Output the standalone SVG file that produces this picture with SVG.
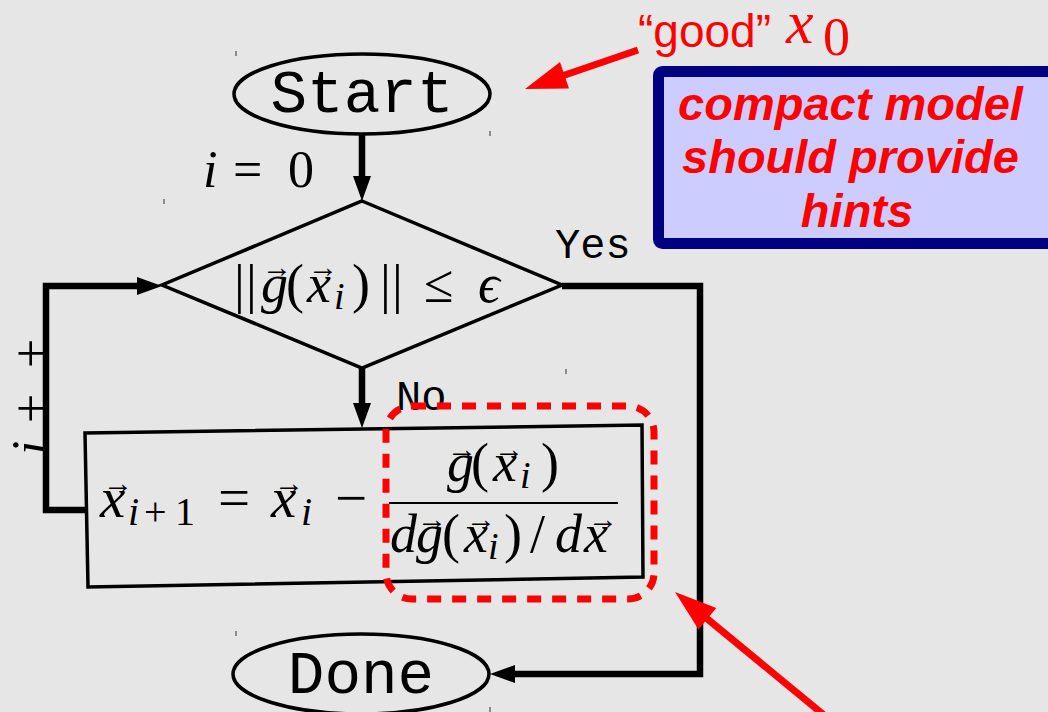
<svg xmlns="http://www.w3.org/2000/svg" width="1048" height="712" viewBox="0 0 1048 712">
<defs>
<style>
.shape{fill:none;stroke:#000;stroke-width:3.5}
.conn{fill:none;stroke:#000;stroke-width:6.5;stroke-linejoin:miter}
.head{fill:#000}
.mono{font-family:'Liberation Mono','DejaVu Sans Mono',monospace;fill:#000}
.m{font-family:'Liberation Serif','DejaVu Serif',serif;fill:#000}
.it{font-style:italic}
.vec{font-family:'Liberation Serif','DejaVu Serif',serif;font-size:30px;text-anchor:middle;fill:#000}
.red{fill:#ff0000}
.tick{stroke:#333;stroke-width:1}
</style>
</defs>
<rect width="1048" height="712" fill="#e6e6e6"/>
<g id="ticks">
<line class="tick" x1="236" y1="51" x2="236" y2="56"/>
<line class="tick" x1="490" y1="131" x2="490" y2="136"/>
<line class="tick" x1="164" y1="199" x2="164" y2="204"/>
<line class="tick" x1="566" y1="369" x2="566" y2="374"/>
<line class="tick" x1="236" y1="631" x2="236" y2="636"/>
<line class="tick" x1="490" y1="707" x2="490" y2="712"/>
</g>
<g id="connectors">
<line class="conn" x1="362" y1="135" x2="362" y2="180"/>
<polygon class="head" points="362,201 353,176 371,176"/>
<line class="conn" x1="362" y1="368" x2="362" y2="407"/>
<polygon class="head" points="362,428 353,403 371,403"/>
<polyline class="conn" points="562,286 700,286 700,674 512,674"/>
<polygon class="head" points="490,674 515,665 515,683"/>
<polyline class="conn" points="87,510 46,510 46,286 140,286"/>
<polygon class="head" points="162,286 137,277 137,295"/>
</g>
<g id="start">
<ellipse class="shape" cx="362" cy="94" rx="128" ry="40"/>
<text class="mono" x="362" y="112" font-size="61" text-anchor="middle">Start</text>
</g>
<g id="init-label">
<text class="m" y="187" font-size="52"><tspan x="203" class="it">i</tspan><tspan x="233">=</tspan><tspan x="288">0</tspan></text>
</g>
<g id="decision">
<polygon class="shape" points="362,201 562,285 362,368 162,285"/>
<text class="m" y="302" font-size="54"><tspan x="234">|</tspan><tspan x="246">|</tspan><tspan x="261" class="it">g</tspan><tspan x="286">(</tspan><tspan x="307" class="it">x</tspan><tspan x="380">|</tspan><tspan x="392">|</tspan><tspan x="424">≤</tspan><tspan x="478" class="it">ϵ</tspan></text>
<text class="m" y="302" font-size="54"><tspan x="352">)</tspan></text>
<text class="m it" x="334" y="309" font-size="38">i</text>
<text class="vec" x="277" y="277">→</text>
<text class="vec" x="323" y="277">→</text>
</g>
<g id="label-yes"><text class="mono" x="555" y="258" font-size="42">Yes</text></g>
<g id="label-no"><text class="mono" x="396" y="410" font-size="42">No</text></g>
<g id="label-inc">
<text class="m" transform="translate(48,455) rotate(-90)" font-size="52"><tspan x="0" class="it">i</tspan><tspan x="32">+</tspan><tspan x="87">+</tspan></text>
</g>
<g id="update">
<polygon class="shape" points="85,433 642,425 643,577 88,587"/>
<text class="m" y="517" font-size="57"><tspan x="100" class="it">x</tspan><tspan x="218">=</tspan><tspan x="271" class="it">x</tspan><tspan x="335">−</tspan></text>
<text class="m" y="525" font-size="40"><tspan x="128" class="it">i</tspan><tspan x="144">+</tspan><tspan x="175">1</tspan><tspan x="301" class="it">i</tspan></text>
<text class="vec" x="118" y="493">→</text>
<text class="vec" x="289" y="493">→</text>
<text class="m" y="481" font-size="54"><tspan x="447" class="it">g</tspan><tspan x="471">(</tspan><tspan x="493" class="it">x</tspan><tspan x="541">)</tspan></text>
<text class="m it" x="520" y="488" font-size="38">i</text>
<text class="vec" x="462" y="459">→</text>
<text class="vec" x="509" y="459">→</text>
<line x1="389" y1="503" x2="618" y2="503" stroke="#000" stroke-width="2.2"/>
<text class="m" y="552" font-size="54"><tspan x="390" class="it">d</tspan><tspan x="416" class="it">g</tspan><tspan x="442">(</tspan><tspan x="464" class="it">x</tspan><tspan x="504">)</tspan><tspan x="530">/</tspan><tspan x="555" class="it">d</tspan><tspan x="584" class="it">x</tspan></text>
<text class="m it" x="488" y="559" font-size="38">i</text>
<text class="vec" x="432" y="529">→</text>
<text class="vec" x="481" y="529">→</text>
<text class="vec" x="603" y="529">→</text>
</g>
<g id="done">
<ellipse class="shape" cx="361" cy="674" rx="128" ry="40"/>
<text class="mono" x="361" y="693" font-size="61" text-anchor="middle">Done</text>
</g>
<g id="highlight">
<rect x="386" y="406" width="268" height="193" rx="26" fill="none" stroke="#ff0000" stroke-width="7" stroke-dasharray="14 11"/>
</g>
<g id="hint-box">
<rect x="658.5" y="71.5" width="400" height="172" rx="4" fill="#ccccff" stroke="#000080" stroke-width="11"/>
<text font-family="'Liberation Sans','Arial',sans-serif" font-weight="bold" font-style="italic" font-size="47" fill="#ff0000" text-anchor="middle">
<tspan x="857" y="120">compact model</tspan>
<tspan x="857" y="173">should provide</tspan>
<tspan x="857" y="227">hints</tspan>
</text>
</g>
<g id="good-x0">
<text font-family="'Liberation Sans','Arial',sans-serif" font-size="46" fill="#ff0000" x="638" y="47">“good”</text>
<text class="m it red" x="786" y="43" font-size="62">x</text>
<text class="m red" x="823" y="55" font-size="54">0</text>
</g>
<g id="red-arrows">
<line x1="638" y1="50" x2="562" y2="76" stroke="#ff0000" stroke-width="7"/>
<polygon points="525,89 560,62 569,88.5" fill="#ff0000"/>
<line x1="830" y1="720" x2="705" y2="617" stroke="#ff0000" stroke-width="7"/>
<polygon points="675,592 716.3,607.9 698.5,629.5" fill="#ff0000"/>
</g>
</svg>
